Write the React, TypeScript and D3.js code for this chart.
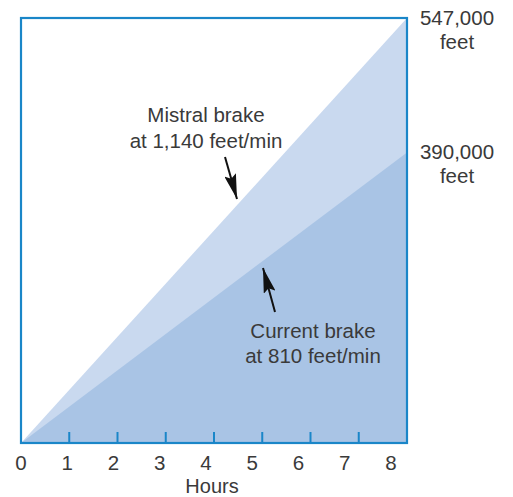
import * as d3 from 'd3'
import React from 'react'

// hours on the x axis, feet covered at the end of the shift
const hours = [0, 1, 2, 3, 4, 5, 6, 7, 8]
const mistralFeet = [0, 547000]
const currentFeet = [0, 374000]
const endHours = [0, 8]
const endLabels = [
    { value: 547000, lines: ['547,000', 'feet'] },
    { value: 374000, lines: ['390,000', 'feet'] },
]
const mistralNote = ['Mistral brake', 'at 1,140 feet/min']
const currentNote = ['Current brake', 'at 810 feet/min']

const W = 513
const H = 497
const margin = { top: 18, right: 106, bottom: 54, left: 21 }
const font = '"Liberation Sans", Arial, sans-serif'
const ink = '#3a3a3a'
const frame = '#1a86c8'

const App: React.FC = () => {
    const x = d3.scaleLinear().domain([0, 8]).range([margin.left, W - margin.right])
    // tick labels in the original sit a bit left of their ticks
    const xLabel = d3.scaleLinear().domain([0, 8]).range([margin.left, W - margin.right - 16])
    const y = d3.scaleLinear().domain([0, 547000]).range([H - margin.bottom, margin.top])

    const area = d3.area<number>()
        .x((_, i) => x(endHours[i]))
        .y0(y(0))
        .y1(d => y(d))

    const x0 = x(0), x1 = x(8), y0 = y(0), y1 = y(547000)

    return (
        <svg width={W} height={H} style={{ position: 'absolute', left: 0, top: 0 }}>
            <defs>
                <marker id="arr" viewBox="0 0 25 12" refX="25" refY="6" markerWidth="25" markerHeight="12"
                    orient="auto" markerUnits="userSpaceOnUse">
                    <path d="M0,0 L25,6 L0,12 L4,6 Z" fill="#111" />
                </marker>
            </defs>
            <path d={area(mistralFeet) ?? ''} fill="#c9d9ef" />
            <path d={area(currentFeet) ?? ''} fill="#a9c4e5" />

            {hours.slice(1, -1).map(h => (
                <line key={h} x1={x(h)} x2={x(h)} y1={y0} y2={y0 - 11} stroke={frame} strokeWidth={2} />
            ))}
            <rect x={x0} y={y1} width={x1 - x0} height={y0 - y1} fill="none" stroke={frame} strokeWidth={2.2} />

            <g fontFamily={font} fontSize={20.5} fill={ink} textAnchor="middle">
                {hours.map(h => (
                    <text key={h} x={xLabel(h)} y={470}>{h}</text>
                ))}
                <text x={212} y={493} fontSize={20}>Hours</text>

                {endLabels.map((l, i) => (
                    <text key={i} x={457} y={y(l.value) + 7}>
                        {l.lines.map((t, j) => (
                            <tspan key={j} x={457} dy={j === 0 ? 0 : 23.5}>{t}</tspan>
                        ))}
                    </text>
                ))}

                <text x={206} y={122}>
                    {mistralNote.map((t, j) => (
                        <tspan key={j} x={206} dy={j === 0 ? 0 : 26}>{t}</tspan>
                    ))}
                </text>
                <text x={313} y={338}>
                    {currentNote.map((t, j) => (
                        <tspan key={j} x={313} dy={j === 0 ? 0 : 24.5}>{t}</tspan>
                    ))}
                </text>
            </g>

            <line x1={225} y1={157} x2={237} y2={199} stroke="#111" strokeWidth={2} markerEnd="url(#arr)" />
            <line x1={275} y1={312} x2={263} y2={268} stroke="#111" strokeWidth={2} markerEnd="url(#arr)" />
        </svg>
    )
}

export default App
